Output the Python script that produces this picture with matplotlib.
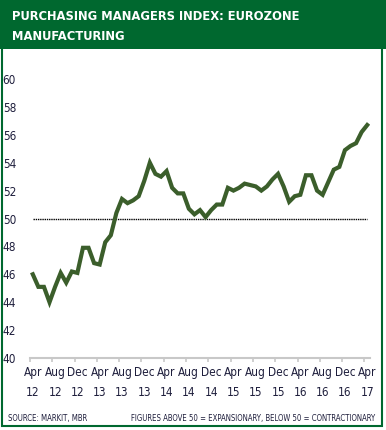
import matplotlib
matplotlib.use("Agg")
from matplotlib import pyplot as plt
from matplotlib.patches import Rectangle
import numpy as np

# monthly PMI, Apr 2012 - Apr 2017
pmi = [46.0, 45.1, 45.1, 44.0, 45.1, 46.1, 45.4, 46.2, 46.1,
       47.9, 47.9, 46.8, 46.7, 48.3, 48.8, 50.4, 51.4, 51.1, 51.3, 51.6, 52.7,
       54.0, 53.2, 53.0, 53.4, 52.2, 51.8, 51.8, 50.7, 50.3, 50.6, 50.1, 50.6,
       51.0, 51.0, 52.2, 52.0, 52.2, 52.5, 52.4, 52.3, 52.0, 52.3, 52.8, 53.2,
       52.3, 51.2, 51.6, 51.7, 53.1, 53.1, 52.0, 51.7, 52.6, 53.5, 53.7, 54.9,
       55.2, 55.4, 56.2, 56.7]
tick_labels = ["Apr\n12", "Aug\n12", "Dec\n12", "Apr\n13", "Aug\n13", "Dec\n13",
               "Apr\n14", "Aug\n14", "Dec\n14", "Apr\n15", "Aug\n15", "Dec\n15",
               "Apr\n16", "Aug\n16", "Dec\n16", "Apr\n17"]
y_ticks = [40, 42, 44, 46, 48, 50, 52, 54, 56, 58, 60]
threshold = 50

fam = "DejaVu Sans"
st = "condensed"
green = "#00682f"
line_col = "#3b5e2b"
txt = "#1e1e3c"

W, H = 386, 430
fig = plt.figure(figsize=(W / 100, H / 100), dpi=100)

# header band and frame
fig.patches.append(Rectangle((0, 381 / H), 1, 49 / H, transform=fig.transFigure,
                             facecolor=green, edgecolor="none", zorder=0))
fig.patches.append(Rectangle((1.5 / W, 4 / H), 380 / W, 420 / H, transform=fig.transFigure,
                             facecolor="none", edgecolor=green, linewidth=1.5, zorder=1))
fig.text(12 / W, 1 - 17 / H, "PURCHASING MANAGERS INDEX: EUROZONE", color="white",
         fontsize=9.3, fontweight="bold", family=fam, stretch=st, va="center", ha="left")
fig.text(12 / W, 1 - 36 / H, "MANUFACTURING", color="white",
         fontsize=9.3, fontweight="bold", family=fam, stretch=st, va="center", ha="left")

ax = fig.add_axes([30 / W, 72 / H, 340 / W, 279 / H])
x = np.arange(len(pmi))
ax.plot(x, pmi, color=line_col, linewidth=3, solid_joinstyle="miter", zorder=3)
ax.plot([x[0], x[-1]], [threshold, threshold], color="black", linestyle=(0, (1, 0.6)),
        linewidth=1, zorder=2)

ax.set_xlim(-0.5, len(pmi) - 0.5)
ax.set_ylim(40, 60)
ax.set_yticks(y_ticks)
ax.set_yticklabels([str(v) for v in y_ticks], family=fam, stretch=st, fontsize=8.5, color=txt)
ax.tick_params(axis="y", length=0, pad=10)

ax.set_xticks(x[::4])
ax.set_xticklabels(tick_labels, family=fam, stretch=st, fontsize=8.5, color=txt, linespacing=1.7)
ax.set_xticks(np.arange(-0.5, len(pmi), 4), minor=True)
ax.tick_params(axis="x", which="major", length=0, pad=6)
ax.tick_params(axis="x", which="minor", length=3, color="#c8c8c8", width=1.2)

for s in ["top", "right", "left"]:
    ax.spines[s].set_visible(False)
ax.spines["bottom"].set_color("#c8c8c8")
ax.spines["bottom"].set_linewidth(1.5)

fig.text(8 / W, 12 / H, "SOURCE: MARKIT, MBR", color=txt, fontsize=5.6,
         family=fam, stretch=st, va="center", ha="left")
fig.text(375 / W, 12 / H, "FIGURES ABOVE 50 = EXPANSIONARY, BELOW 50 = CONTRACTIONARY",
         color=txt, fontsize=5.6, family=fam, stretch=st, va="center", ha="right")

fig.savefig("out.png", dpi=100)
